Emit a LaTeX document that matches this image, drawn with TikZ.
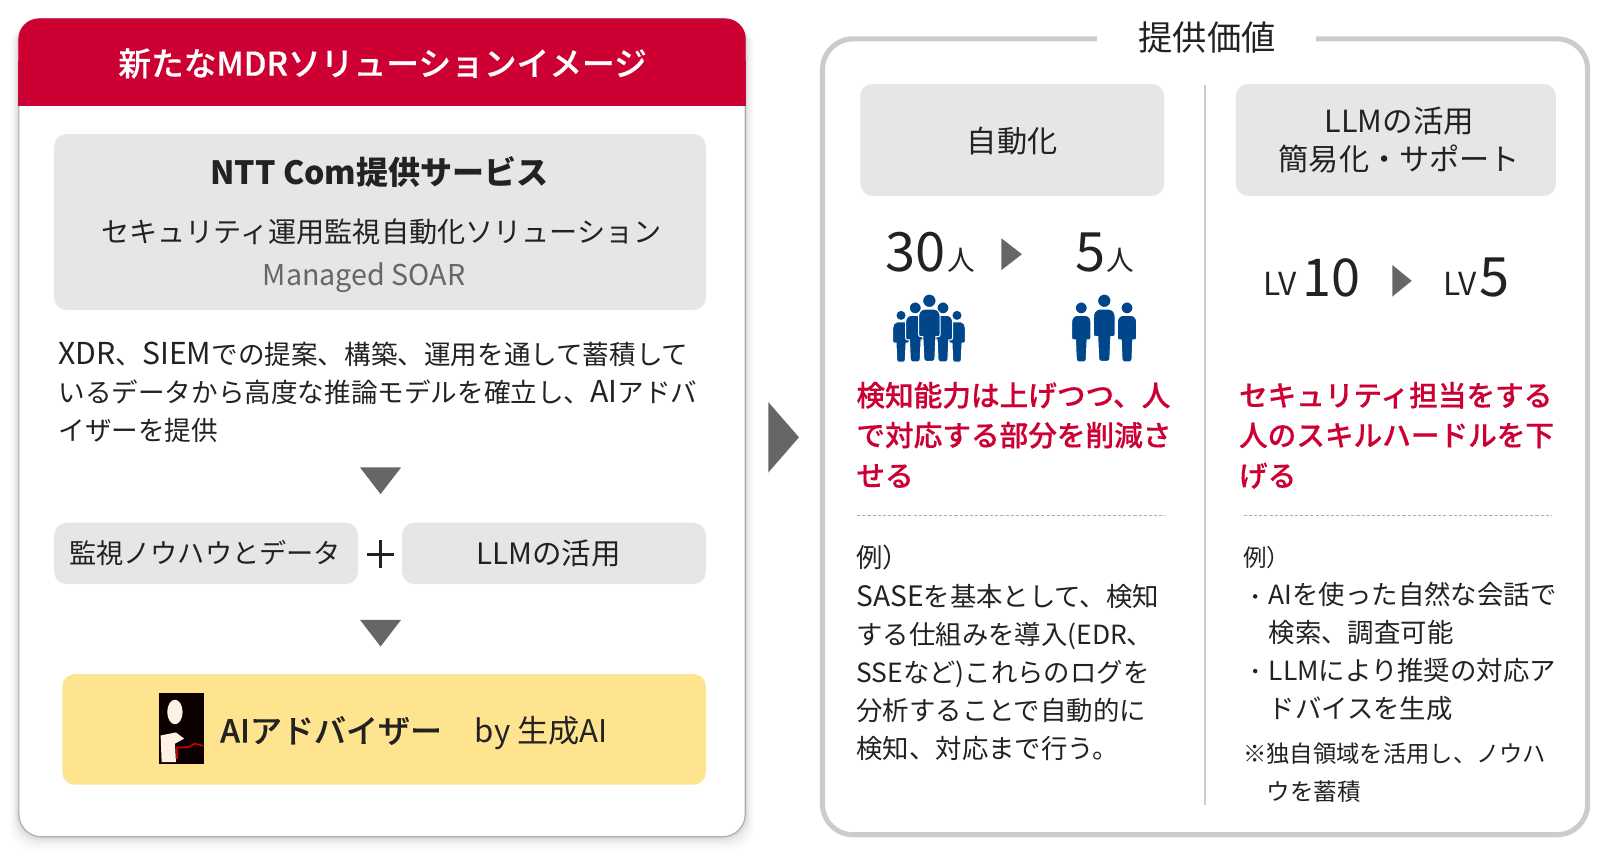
\documentclass[tikz,border=0pt]{standalone}
\usepackage{fontspec}
\setmainfont{Noto Sans CJK JP}
\newfontfamily\medfont[FakeBold=0.3]{Noto Sans CJK JP Medium}
\definecolor{ink}{HTML}{222222}
\definecolor{brandred}{HTML}{CC0033}
\definecolor{panelgray}{HTML}{E6E6E6}
\definecolor{panelyellow}{HTML}{FFE48F}
\definecolor{arrowgray}{HTML}{666666}
\definecolor{peopleblue}{HTML}{00468B}
\definecolor{framegray}{HTML}{CCCCCC}
\newcommand{\fsz}[1]{\fontsize{#1}{#1}\selectfont}
\newcommand{\personicon}[3]{%
 \begin{scope}[shift={(#1,#2)},scale=#3]
  \fill[peopleblue,draw=white,line width=1pt] (0,0) circle (6.6);
  \fill[peopleblue,draw=white,line width=1pt] (-5,8.2) -- (5,8.2) .. controls (9,8.8) and (10.6,12) .. (10.6,16)
   -- (10.6,33) .. controls (10.6,34.5) and (9.5,35.2) .. (8,35.2) -- (6.4,35.2) -- (5.4,57.5)
   .. controls (5.3,58.8) and (4.6,59.2) .. (3.6,59.2) -- (-3.6,59.2) .. controls (-4.6,59.2) and (-5.3,58.8) .. (-5.4,57.5)
   -- (-6.4,35.2) -- (-8,35.2) .. controls (-9.5,35.2) and (-10.6,34.5) .. (-10.6,33) -- (-10.6,16)
   .. controls (-10.6,12) and (-9,8.8) .. (-5,8.2) -- cycle;
 \end{scope}}
\tikzset{
 lbl/.style={anchor=base west,inner sep=0pt,text=ink,font=\fsz{#1}},
 lbl/.default=25.8,
 ctr/.style={anchor=base,inner sep=0pt,text=ink,font=\fsz{#1}},
 redlbl/.style={anchor=base west,inner sep=0pt,text=brandred,font=\medfont\fsz{28}},
 panel/.style={fill=panelgray,rounded corners=12pt},
 tri/.style={fill=arrowgray},
 dots/.style={draw=framegray!85!black,line width=1pt,dash pattern=on 3pt off 2pt}
}
\begin{document}
\begin{tikzpicture}[x=1pt,y=-1pt]
\useasboundingbox (0,0) rectangle (1568,842.6);
\fill[white] (0,0) rectangle (1568,842.6);
% left card with soft shadow
\foreach \d/\g in {14/99,12/98,10/97,8/95,6/93,4/90,2/86}{
 \fill[black!\the\numexpr100-\g\relax,rounded corners=24pt] (18-\d*0.6,18+\d*0.4) rectangle (729+\d*0.6,818+\d);
}
\draw[fill=white,draw=black!32,line width=1.1pt,rounded corners=22pt] (18.5,18.5) rectangle (728.5,818);
\fill[brandred,rounded corners=20pt] (18,103.5) -- (18,18) -- (729,18) -- (729,103.5) -- cycle;
\fill[brandred] (18,60) rectangle (729,103.5);
\node[ctr=31,text=white,font=\medfont\fsz{32}] (hdr) at (374,74) {新たなMDRソリューションイメージ};
% top grey panel
\fill[panel] (53,131) rectangle (690,303);
\node[ctr=32,font=\bfseries\fsz{31.3}] (ntt) at (371,180) {NTT Com提供サービス};
\node[ctr=27.5] (sec) at (373,237) {セキュリティ運用監視自動化ソリューション};
\node[ctr=28,text=arrowgray] (soar) at (356,279) {Managed SOAR};
% body
\node[lbl=26] (b1) at (57,356) {{\fsz{29.5}XDR}、{\fsz{29.5}SIEM}での提案、構築、運用を通して蓄積して};
\node[lbl=26] (b2) at (57,393) {いるデータから高度な推論モデルを確立し、{\fsz{29.5}AI}アドバ};
\node[lbl=26] (b3) at (57,430.5) {イザーを提供};
\fill[tri] (352,457) -- (392,457) -- (372,483) -- cycle;
\fill[panel] (53,511) rectangle (350,571);
\node[ctr=26.6] (know) at (200.5,551) {監視ノウハウとデータ};
\fill[panel] (393,511) rectangle (690,571);
\node[ctr=28.8] (llm) at (536,552) {LLMの活用};
\fill[ink] (358.5,540.5) rectangle (385,543.3);
\fill[ink] (370.5,528) rectangle (373.3,555);
\fill[tri] (352,606) -- (392,606) -- (372,632) -- cycle;
% yellow panel
\fill[fill=panelyellow,rounded corners=12pt] (61,659) rectangle (690,767);
\fill[black!95!red] (155,677) rectangle (199,747);
\fill[white!90!orange] (171,696) ellipse (7.5 and 12);
\fill[white!90!orange] (157,719) -- (172,716) -- (180,722) -- (171,727) -- (172,745) -- (158,745) -- cycle;
\draw[red!80!black,line width=1.6pt] (173,742) -- (173,731) -- (185,730) -- (190,727) -- (199,729);
\node[anchor=base west,inner sep=0pt,text=ink,font=\medfont\fsz{31.3}] (ai) at (215,726) {AIアドバイザー};
\node[lbl=30.5] (by) at (464,726) {by 生成AI};
% centre arrow
\fill[tri] (751,393) -- (781,427.5) -- (751,462) -- cycle;
% right card
\draw[framegray,line width=5pt,rounded corners=30pt] (804,38) rectangle (1552,816);
\fill[white] (1072,25) rectangle (1286,50);
\node[ctr=33.5] (val) at (1180,49.5) {提供価値};
\draw[framegray,line width=1.5pt] (1178,83) -- (1178,787);
\fill[panel] (841,82) rectangle (1138,191.5);
\node[ctr=29.5] (auto) at (989.5,149) {自動化};
\fill[panel] (1208,82) rectangle (1521,191.5);
\node[ctr=29.8] (llm1) at (1368,130) {LLMの活用};
\node[ctr=29.5] (llm2) at (1368,167) {簡易化・サポート};
% numbers
\node[lbl=53] (n30) at (865,265) {30};
\node[lbl=27] (u30) at (926.5,264) {人};
\fill[tri] (979,233) -- (999,248.5) -- (979,264) -- cycle;
\node[lbl=53] (n5) at (1051,265) {5};
\node[lbl=27] (u5) at (1081,264) {人};
\node[lbl=31] (lv1) at (1235,289) {LV};
\node[lbl=51] (n10) at (1273,290) {10};
\fill[tri] (1361,259) -- (1380,274.5) -- (1361,290) -- cycle;
\node[lbl=31] (lv2) at (1411,289) {LV};
\node[lbl=53] (n5b) at (1446,290) {5};
% people
\personicon{880.8}{308.3}{0.77}
\personicon{935.5}{308.3}{0.77}
\personicon{894.7}{301}{0.89}
\personicon{921.8}{301}{0.89}
\personicon{908.5}{294}{1}
\personicon{1057}{301}{0.89}
\personicon{1101.7}{301}{0.89}
\personicon{1079.5}{294}{1}
% red text
\node[redlbl] (r1) at (837,397) {検知能力は上げつつ、人};
\node[redlbl] (r2) at (837,436) {で対応する部分を削減さ};
\node[redlbl] (r3) at (837,475.5) {せる};
\node[redlbl] (s1) at (1211,397) {セキュリティ担当をする};
\node[redlbl] (s2) at (1211,436) {人のスキルハードルを下};
\node[redlbl] (s3) at (1211,475.5) {げる};
\draw[dots] (838,503.5) -- (1139,503.5);
\draw[dots] (1216,503.5) -- (1517,503.5);
% examples left
\node[lbl] (e0) at (837,555) {例）};
\node[lbl] (e1) at (837,593) {{\fsz{27.5}SASE}を基本として、検知};
\node[lbl] (e2) at (837,630) {する仕組みを導入(EDR、};
\node[lbl] (e3) at (837,667) {SSEなど)これらのログを};
\node[lbl] (e4) at (837,704) {分析することで自動的に};
\node[lbl] (e5) at (837,741.5) {検知、対応まで行う。};
% examples right
\node[lbl=23] (f0) at (1215,554) {例）};
\fill[ink] (1227,583) circle (2.2);
\node[lbl] (f1) at (1240,591) {AIを使った自然な会話で};
\node[lbl] (f2) at (1240,628) {検索、調査可能};
\fill[ink] (1227,656) circle (2.2);
\node[lbl] (f3) at (1240,665) {LLMにより推奨の対応ア};
\node[lbl] (f4) at (1240,702) {ドバイスを生成};
\node[lbl=22.8] (f5) at (1215,745) {※独自領域を活用し、ノウハ};
\node[lbl=23] (f6) at (1238,783) {ウを蓄積};
\end{tikzpicture}
\end{document}
